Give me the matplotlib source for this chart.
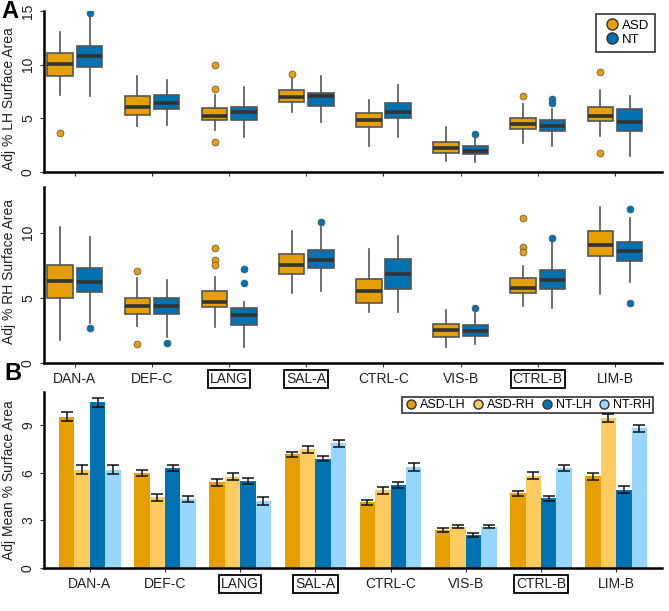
import matplotlib.pyplot as plt
from matplotlib.lines import Line2D
import numpy as np

plt.rcParams['font.family'] = ['Liberation Sans', 'DejaVu Sans']

# Regions (x categories)
regions = ['DAN-A', 'DEF-C', 'LANG', 'SAL-A', 'CTRL-C', 'VIS-B', 'CTRL-B', 'LIM-B']
boxed = ['LANG', 'SAL-A', 'CTRL-B']

# Box stats per region: (whislo, q1, med, q3, whishi)
lh_asd = [(7.2, 8.95, 10.1, 11.1, 13.07), (4.25, 5.3, 6.1, 7.1, 8.95), (3.9, 4.85, 5.25, 5.95, 7.2),
          (5.6, 6.55, 6.95, 7.6, 8.8), (2.4, 4.2, 4.8, 5.5, 6.7), (1.0, 1.75, 2.25, 2.75, 4.2),
          (2.7, 4.0, 4.5, 5.0, 6.35), (3.4, 4.75, 5.25, 6.05, 7.6)]
lh_asd_out = [[3.6], [], [10.0, 7.7, 2.75], [9.1], [], [], [7.1], [9.35, 1.75]]
lh_nt = [(7.1, 9.8, 10.8, 11.7, 14.5), (4.4, 5.85, 6.45, 7.2, 8.6), (3.25, 4.85, 5.55, 6.05, 7.9),
         (4.7, 6.15, 7.1, 7.4, 8.95), (3.25, 5.0, 5.6, 6.45, 8.1), (0.95, 1.65, 2.0, 2.4, 3.3),
         (2.45, 3.8, 4.25, 4.85, 5.85), (1.5, 3.8, 4.7, 5.85, 7.1)]
lh_nt_out = [[14.8], [], [], [], [], [3.55], [6.8, 6.45], []]

rh_asd = [(1.75, 5.0, 6.3, 7.5, 10.45), (2.8, 3.75, 4.35, 5.0, 6.55), (2.75, 4.3, 4.65, 5.5, 6.6),
          (5.4, 6.85, 7.55, 8.35, 10.1), (3.95, 4.6, 5.55, 6.45, 8.75), (1.25, 2.0, 2.5, 3.0, 4.1),
          (4.35, 5.35, 5.75, 6.5, 7.45), (5.3, 8.2, 9.05, 10.15, 12.0)]
rh_asd_out = [[], [7.05, 1.45], [8.8, 7.9, 7.5], [], [], [], [11.1, 8.9, 8.55], []]
rh_nt = [(3.1, 5.45, 6.2, 7.25, 9.7), (2.0, 3.75, 4.4, 5.0, 6.4), (1.25, 2.95, 3.65, 4.25, 4.7),
         (5.5, 7.25, 7.9, 8.65, 10.4), (3.95, 5.7, 6.8, 7.95, 9.75), (1.45, 2.1, 2.45, 2.9, 3.8),
         (4.25, 5.65, 6.4, 7.15, 9.3), (6.2, 7.8, 8.6, 9.25, 11.15)]
rh_nt_out = [[2.65], [1.55], [7.2, 6.15], [10.8], [], [4.2], [9.55], [11.85, 4.6]]

# Bar panel: means and standard errors
bar_groups = ['ASD-LH', 'ASD-RH', 'NT-LH', 'NT-RH']
bar_means = [
    [9.55, 6.0, 5.4, 7.16, 4.15, 2.4, 4.72, 5.78],
    [6.2, 4.45, 5.74, 7.48, 4.9, 2.6, 5.83, 9.45],
    [10.45, 6.3, 5.47, 6.9, 5.25, 2.08, 4.39, 4.94],
    [6.2, 4.36, 4.24, 7.86, 6.35, 2.6, 6.3, 8.8],
]
bar_se = [
    [0.3, 0.2, 0.22, 0.17, 0.17, 0.1, 0.15, 0.22],
    [0.3, 0.2, 0.22, 0.2, 0.22, 0.1, 0.2, 0.25],
    [0.3, 0.2, 0.2, 0.15, 0.2, 0.12, 0.15, 0.22],
    [0.3, 0.18, 0.25, 0.2, 0.25, 0.1, 0.2, 0.25],
]

c_asd = '#E69F00'
c_nt = '#0072B2'
c_asd_rh = '#FFCB5E'
c_nt_rh = '#97D6FF'
bar_colors = [c_asd, c_asd_rh, c_nt, c_nt_rh]

fig = plt.figure(figsize=(6.69, 6.11), dpi=100)
L, W = 44 / 669, 618 / 669
ax1 = fig.add_axes([L, 1 - 172 / 611, W, 161 / 611])
ax2 = fig.add_axes([L, 1 - 363 / 611, W, 176 / 611])
ax3 = fig.add_axes([L, 1 - 568 / 611, W, 176 / 611])

xs = np.arange(1, len(regions) + 1)


def make_stats(stats, outs):
    res = []
    for (lo, q1, med, q3, hi), fl in zip(stats, outs):
        res.append(dict(whislo=lo, q1=q1, med=med, q3=q3, whishi=hi, fliers=fl))
    return res


def draw_boxes(ax, stats, outs, pos, color):
    ax.bxp(make_stats(stats, outs), positions=pos, widths=0.33, patch_artist=True,
           showcaps=False,
           boxprops=dict(facecolor=color, edgecolor='#555555', linewidth=1.2),
           medianprops=dict(color='#333333', linewidth=2.6),
           whiskerprops=dict(color='#555555', linewidth=1.2),
           flierprops=dict(marker='o', markerfacecolor=color, markeredgecolor='#555555',
                           markeredgewidth=0.5, markersize=5))


def style_axis(ax, label, ypos):
    for s in ['top', 'right']:
        ax.spines[s].set_visible(False)
    for s in ['left', 'bottom']:
        ax.spines[s].set_linewidth(1.8)
    ax.tick_params(axis='both', direction='out', length=3, width=0.8, color='#333333',
                   labelsize=10, labelcolor='#222222')
    ax.tick_params(axis='y', labelrotation=90)
    for t in ax.get_yticklabels():
        t.set_va('center')
    ax.set_ylabel(label, fontsize=10, color='#222222')
    ax.yaxis.set_label_coords(-0.046, ypos)


draw_boxes(ax1, lh_asd, lh_asd_out, xs - 0.19, c_asd)
draw_boxes(ax1, lh_nt, lh_nt_out, xs + 0.19, c_nt)
ax1.set_xlim(0.6, 8.61)
ax1.set_ylim(0, 15)
ax1.set_yticks([0, 5, 10, 15])
ax1.set_xticks(xs)
ax1.set_xticklabels([])
style_axis(ax1, 'Adj % LH Surface Area', 0.455)

draw_boxes(ax2, rh_asd, rh_asd_out, xs - 0.19, c_asd)
draw_boxes(ax2, rh_nt, rh_nt_out, xs + 0.19, c_nt)
ax2.set_xlim(0.6, 8.61)
ax2.set_ylim(0, 13.5)
ax2.set_yticks([0, 5, 10])
ax2.set_xticks(xs)
ax2.set_xticklabels(regions)
style_axis(ax2, 'Adj % RH Surface Area', 0.52)

bw = 0.205
for i, (g, m, e, c) in enumerate(zip(bar_groups, bar_means, bar_se, bar_colors)):
    ax3.bar(xs + (i - 1.5) * bw, m, width=bw, color=c, yerr=e, capsize=4,
            error_kw=dict(ecolor='#111111', elinewidth=1.1, capthick=1.1), label=g)
ax3.set_xlim(0.39, 8.61)
ax3.set_ylim(0, 11.1)
ax3.set_yticks([0, 3, 6, 9])
ax3.set_xticks(xs)
ax3.set_xticklabels(regions)
style_axis(ax3, 'Adj Mean % Surface Area', 0.5)

for ax in (ax2, ax3):
    for t in ax.get_xticklabels():
        if t.get_text() in boxed:
            t.set_bbox(dict(boxstyle='square,pad=0.15', facecolor='white',
                            edgecolor='black', linewidth=1.3))

# Legends
h1 = [Line2D([], [], marker='o', ls='', markerfacecolor=c, markeredgecolor='#333333',
             markersize=8) for c in (c_asd, c_nt)]
leg1 = fig.legend(h1, ['ASD', 'NT'], loc='upper right', bbox_to_anchor=(662 / 669, 1 - 7 / 611),
                  fontsize=9.5, frameon=True, fancybox=False, edgecolor='black',
                  handletextpad=0.1, handlelength=1.4, labelspacing=0.15, borderpad=0.45)
leg1.get_frame().set_linewidth(1.2)

h3 = [Line2D([], [], marker='o', ls='', markerfacecolor=c, markeredgecolor='#333333',
             markersize=6.5) for c in bar_colors]
leg3 = fig.legend(h3, bar_groups, loc='upper right', bbox_to_anchor=(659 / 669, 1 - 391 / 611),
                  ncol=4, fontsize=9, frameon=True, fancybox=False, edgecolor='black',
                  handletextpad=0.1, handlelength=1.2, columnspacing=0.4, borderpad=0.15)
leg3.get_frame().set_linewidth(1.2)

fig.text(0.002, 1.0, 'A', fontsize=17, fontweight='bold', va='top', ha='left')
fig.text(0.006, 1 - 362 / 611, 'B', fontsize=17, fontweight='bold', va='top', ha='left')

fig.savefig('out.png', dpi=100, facecolor='white')
